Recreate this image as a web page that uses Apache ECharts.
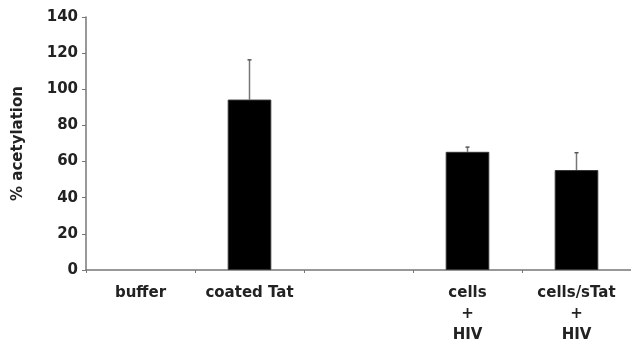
<!DOCTYPE html>
<html><head><meta charset="utf-8">
<script src="https://cdn.jsdelivr.net/npm/echarts@6/dist/echarts.min.js"></script>
<style>html,body{margin:0;padding:0;background:#fff}#c{width:631px;height:346px}</style>
</head><body><div id="c"></div>
<script>
const categories = ['buffer', 'coated Tat', '', 'cells\n+\nHIV', 'cells/sTat\n+\nHIV'];
const values = [null, 94.3, null, 65.4, 55.3];
const errorTops = [null, 116.3, null, 68.0, 64.9];
const yTicks = [0, 20, 40, 60, 80, 100, 120, 140];

const chart = echarts.init(document.getElementById('c'));
const font = 'DejaVu Sans, Liberation Sans, Arial, sans-serif';
chart.setOption({
  animation: false,
  grid: {left: 86, right: 0, top: 17, bottom: 75},
  xAxis: {
    type: 'category', data: categories,
    axisLine: {lineStyle: {color: '#777', width: 1.5}},
    axisTick: {show: true, length: 3, lineStyle: {color: '#777'}},
    axisLabel: {color: '#222', fontFamily: font, fontWeight: 'bold', fontSize: 15, lineHeight: 21, margin: 13, interval: 0}
  },
  yAxis: {
    type: 'value', min: yTicks[0], max: yTicks[yTicks.length - 1], interval: 20,
    name: '% acetylation', nameLocation: 'middle', nameGap: 60, nameRotate: 90,
    nameTextStyle: {color: '#222', fontFamily: font, fontWeight: 'bold', fontSize: 15},
    splitLine: {show: false},
    axisLine: {show: true, lineStyle: {color: '#777', width: 1.5}},
    axisTick: {show: true, length: 4, lineStyle: {color: '#777'}},
    axisLabel: {color: '#222', fontFamily: font, fontWeight: 'bold', fontSize: 15, margin: 8}
  },
  series: [
    {
      type: 'bar', data: values, barWidth: '40%',
      itemStyle: {color: '#000', borderColor: '#333', borderWidth: 1}
    },
    {
      type: 'custom',
      data: errorTops.map((e, i) => [i, values[i], e]),
      z: 1,
      renderItem: function (params, api) {
        const e = api.value(2);
        if (e == null || isNaN(e)) return;
        const base = api.coord([api.value(0), api.value(1)]);
        const top = api.coord([api.value(0), e]);
        return {
          type: 'group',
          children: [
            {type: 'line', shape: {x1: base[0], y1: base[1], x2: top[0], y2: top[1]}, style: {stroke: '#777', lineWidth: 1.5}},
            {type: 'line', shape: {x1: top[0] - 2, y1: top[1], x2: top[0] + 2, y2: top[1]}, style: {stroke: '#555', lineWidth: 1.5}}
          ]
        };
      }
    }
  ]
});
</script></body></html>
